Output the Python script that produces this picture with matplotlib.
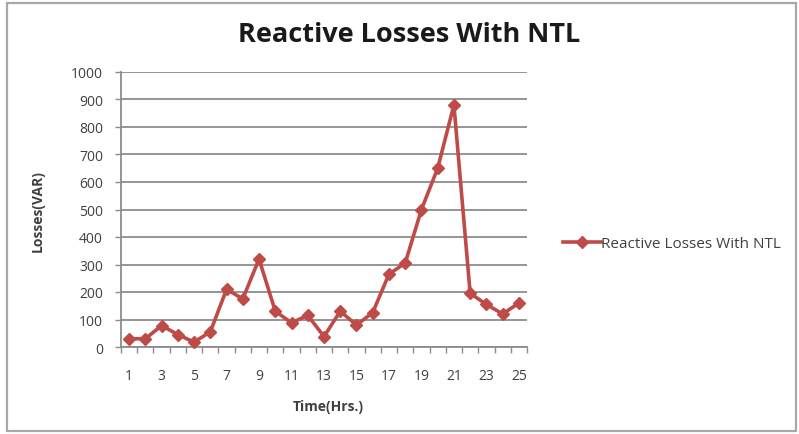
import matplotlib
matplotlib.use("Agg")
import matplotlib.pyplot as plt
from matplotlib.patches import Rectangle
from matplotlib.ticker import FixedLocator, NullFormatter

# Hourly reactive losses with non-technical losses (NTL)
hours = list(range(1, 26))
losses = [30, 30, 78, 45, 18, 55, 210, 175, 320, 130, 88, 115, 38,
          130, 80, 125, 265, 305, 500, 650, 880, 195, 155, 120, 160]
series_name = "Reactive Losses With NTL"
chart_title = "Reactive Losses With NTL"
x_label = "Time(Hrs.)"
y_label = "Losses(VAR)"
y_ticks = list(range(0, 1001, 100))
x_tick_labels = [h for h in hours if h % 2 == 1]

W, H = 799, 435
fig = plt.figure(figsize=(W / 100, H / 100), dpi=100)
fig.patch.set_facecolor("white")

font = "Open Sans"
grey_txt = "#404040"
grid_col = "#8c8c8c"
red = "#be4b48"

# chart-area border
fig.add_artist(Rectangle((7 / W, 1 - 432 / H), (796 - 7) / W, (432 - 4) / H,
                         transform=fig.transFigure, fill=False,
                         edgecolor="#a8a8a8", linewidth=1.6))

ax = fig.add_axes([121 / W, 1 - 348 / H, (527 - 121) / W, (348 - 73) / H])
ax.plot(hours, losses, color=red, linewidth=2.6, marker="D", markersize=6,
        markerfacecolor=red, markeredgecolor=red, label=series_name,
        clip_on=False, zorder=3)

ax.set_xlim(0.5, 25.5)
ax.set_ylim(0, 1000)
ax.set_yticks(y_ticks)
ax.yaxis.grid(True, color=grid_col, linewidth=1.3)
ax.set_axisbelow(True)

ax.set_xticks(x_tick_labels)
ax.set_xticklabels([str(h) for h in x_tick_labels])
ax.xaxis.set_minor_locator(FixedLocator([h - 0.5 for h in hours] + [25.5]))
ax.xaxis.set_minor_formatter(NullFormatter())
ax.tick_params(axis="x", which="major", length=0, pad=15, labelsize=10,
               labelcolor=grey_txt)
ax.tick_params(axis="x", which="minor", length=4, width=1, color=grid_col,
               direction="out")
ax.tick_params(axis="y", which="major", length=4, width=1, color=grid_col,
               direction="out", pad=9, labelsize=10, labelcolor=grey_txt)
for lab in ax.get_xticklabels() + ax.get_yticklabels():
    lab.set_fontfamily(font)

for side in ("top", "right"):
    ax.spines[side].set_visible(False)
for side in ("left", "bottom"):
    ax.spines[side].set_color(grid_col)
    ax.spines[side].set_linewidth(1.3)

fig.text(409 / W, 1 - 35 / H, chart_title, ha="center", va="center",
         fontsize=19.5, fontweight="bold", family=font, color="#1a1a1a")
fig.text(328 / W, 1 - 407 / H, x_label, ha="center", va="center",
         fontsize=10, fontweight="bold", family=font, color=grey_txt)
fig.text(38 / W, 1 - 211 / H, y_label, ha="center", va="center",
         rotation=90, fontsize=10, fontweight="bold", family=font,
         color=grey_txt)

leg = ax.legend(loc="center left", bbox_to_anchor=(555 / W, 1 - 245 / H),
                bbox_transform=fig.transFigure, frameon=False,
                handlelength=2.5, handletextpad=0.0, borderpad=0,
                prop={"family": font, "size": 11})
for t in leg.get_texts():
    t.set_color(grey_txt)

fig.savefig("out.png", dpi=100, facecolor="white")
